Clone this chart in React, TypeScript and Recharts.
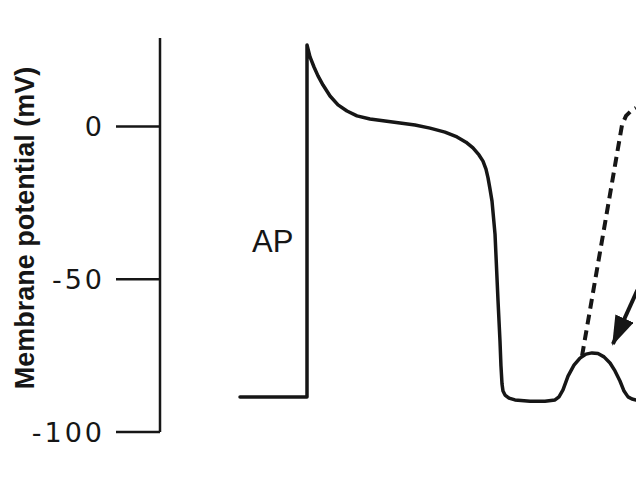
import React from 'react';
import { LineChart, Line, XAxis, YAxis, ReferenceDot, Label } from 'recharts';

// Action potential trace: time (ms, arbitrary) and membrane potential (mV)
const apTime = [114.3, 210, 210, 214.3, 220, 225.7, 232.9, 242.9, 254.3, 267.1, 281.4, 300, 321.4, 342.9, 364.3, 385.7, 407.1, 424.3, 437.1, 447.1, 455.7, 461.4, 465.7, 468.6, 471.4, 474.3, 478.6, 482.9, 485.7, 487.1, 488.6, 490, 492.9, 498.6, 507.1, 528.6, 550, 564.3, 570, 575.7, 582.9, 591.4, 600, 608.6, 617.1, 625.7, 634.3, 642.9, 650, 657.1, 662.9, 668.6, 674.3, 680];
const apMv = [-88.5, -88.5, 26.7, 22.8, 19.5, 16.6, 13.6, 10.0, 7.1, 5.1, 3.5, 2.5, 1.8, 1.2, 0.5, -0.5, -1.8, -3.4, -5.1, -7.0, -9.3, -11.3, -13.9, -16.8, -20.4, -24.4, -35.2, -57.1, -70.2, -78.4, -84.3, -86.6, -87.9, -88.9, -89.5, -89.9, -89.9, -89.5, -88.5, -86.2, -81.7, -78.1, -75.8, -74.5, -74.1, -74.3, -75.4, -77.4, -80.0, -83.3, -86.6, -88.5, -89.2, -89.5];

// Dashed triggered-response trace
const dashTime = [602.9, 660, 665.7, 672.9, 680];
const dashMv = [-75.1, 0.5, 3.5, 5.1, 6.1];

// Arrow (start -> tip)
const arrowTime = [682, 647.1];
const arrowMv = [-53.5, -71.2];

const yTicks = [-100, -50, 0];
const yTitle = 'Membrane potential (mV)';
const apText = 'AP';
const apTextTime = 161;
const apTextMv = -37.6;

const INK = '#161616';

const zip = (ts: number[], vs: number[]) => ts.map((t, i) => ({ t, v: vs[i] }));
const apData = zip(apTime, apMv);
const dashData = zip(dashTime, dashMv);
const arrowData = zip(arrowTime, arrowMv);

const YTitle = (props: any) => {
  const vb = props.viewBox || { x: 0, y: 38, width: 160, height: 394 };
  const cx = vb.x + 34;
  const cy = vb.y + vb.height / 2 - 7;
  return (
    <text
      x={cx}
      y={cy}
      transform={`rotate(-90, ${cx}, ${cy})`}
      textAnchor="middle"
      fill={INK}
      fontFamily="Liberation Sans, Arial, sans-serif"
      fontWeight="bold"
      fontSize={27}
    >
      {yTitle}
    </text>
  );
};

export default function App() {
  return (
    <div style={{ position: 'absolute', left: 0, top: 0, width: 636, height: 482, background: '#ffffff' }}>
      <LineChart width={636} height={482} margin={{ top: 38, right: 0, bottom: 50, left: 0 }}>
        <defs>
          <marker
            id="arrowHead"
            viewBox="0 0 30 20"
            refX="28"
            refY="10"
            markerWidth="30"
            markerHeight="20"
            markerUnits="userSpaceOnUse"
            orient="auto"
          >
            <path d="M0,0 L30,10 L0,20 z" fill={INK} />
          </marker>
        </defs>
        <XAxis
          type="number"
          dataKey="t"
          domain={[0, 680]}
          allowDataOverflow
          tick={false}
          tickLine={false}
          axisLine={{ stroke: INK, strokeWidth: 2.5 }}
          height={0}
        />
        <YAxis
          type="number"
          domain={[-100, 29]}
          allowDataOverflow
          ticks={yTicks}
          width={160}
          tickSize={44}
          tickMargin={11}
          tick={{ fill: INK, fontSize: 27, fontFamily: 'DejaVu Sans', letterSpacing: 3 }}
          tickLine={{ stroke: INK, strokeWidth: 2.5 }}
          axisLine={{ stroke: INK, strokeWidth: 2.5 }}
        >
          <Label content={<YTitle />} />
        </YAxis>
        <Line
          data={apData}
          dataKey="v"
          type="linear"
          stroke={INK}
          strokeWidth={3.5}
          strokeLinejoin="round"
          strokeLinecap="round"
          dot={false}
          activeDot={false}
          isAnimationActive={false}
        />
        <Line
          data={dashData}
          dataKey="v"
          type="linear"
          stroke={INK}
          strokeWidth={4}
          strokeDasharray="10 6"
          dot={false}
          activeDot={false}
          isAnimationActive={false}
        />
        <Line
          data={arrowData}
          dataKey="v"
          type="linear"
          stroke={INK}
          strokeWidth={4}
          markerEnd="url(#arrowHead)"
          dot={false}
          activeDot={false}
          isAnimationActive={false}
        />
        <ReferenceDot
          x={apTextTime}
          y={apTextMv}
          r={0}
          fill="none"
          stroke="none"
          label={{ value: apText, position: 'center', fill: INK, fontSize: 31, fontFamily: 'Liberation Sans, Arial, sans-serif' }}
        />
      </LineChart>
    </div>
  );
}
